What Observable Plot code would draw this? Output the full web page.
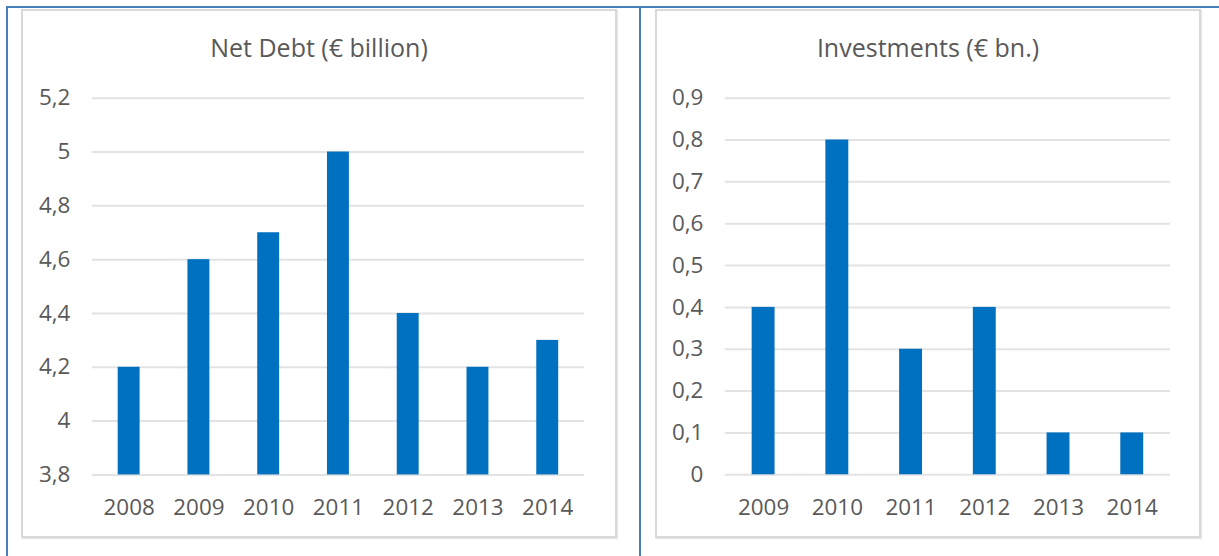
<!DOCTYPE html>
<html>
<head>
<meta charset="utf-8">
<script src="https://cdn.jsdelivr.net/npm/d3@7"></script>
<script src="https://cdn.jsdelivr.net/npm/@observablehq/plot@0.6"></script>
<style>
  html, body { margin: 0; padding: 0; background: #fff; width: 1219px; height: 556px; overflow: hidden; }
  .frame { position: absolute; background: #4a7ebb; }
  .panel { position: absolute; box-sizing: border-box; border: 2px solid #d9d9d9; background: #fff; box-shadow: 1px 1px 1px #e4e4e4; }
  .title { position: absolute; left: 0; right: 0; text-align: center; font-family: "Open Sans", sans-serif; font-size: 25px; line-height: 34px; color: #595959; white-space: nowrap; }
  .chart { position: absolute; left: -2px; top: -2px; }
</style>
</head>
<body>
<div class="frame" style="left:6px; top:6px; width:1213px; height:2px;"></div>
<div class="frame" style="left:6px; top:6px; width:2px; height:550px;"></div>
<div class="frame" style="left:639px; top:6px; width:2px; height:550px;"></div>

<div class="panel" id="p1" style="left:21px; top:9px; width:596px; height:529px;">
  <div class="title" style="top:19px;">Net Debt (€ billion)</div>
  <div class="chart" id="c1"></div>
</div>
<div class="panel" id="p2" style="left:655px; top:9px; width:546px; height:529px;">
  <div class="title" style="top:19px;">Investments (€ bn.)</div>
  <div class="chart" id="c2"></div>
</div>

<script>
// Net Debt chart data
const debtYears = ["2008", "2009", "2010", "2011", "2012", "2013", "2014"];
const debtValues = [4.2, 4.6, 4.7, 5.0, 4.4, 4.2, 4.3];
const debtDomain = [3.8, 5.2];
const debtTicks = [3.8, 4.0, 4.2, 4.4, 4.6, 4.8, 5.0, 5.2];

// Investments chart data
const invYears = ["2009", "2010", "2011", "2012", "2013", "2014"];
const invValues = [0.4, 0.8, 0.3, 0.4, 0.1, 0.1];
const invDomain = [0, 0.9];
const invTicks = [0, 0.1, 0.2, 0.3, 0.4, 0.5, 0.6, 0.7, 0.8, 0.9];

const fmt = d => String(+d.toFixed(1)).replace(".", ",");
const barColor = "#0070c0";
const gridColor = "#e3e3e3";
const textColor = "#595959";

function makeChart(years, values, domain, ticks, width, margins) {
  const data = years.map((y, i) => ({year: y, value: values[i]}));
  return Plot.plot({
    width, height: 529,
    marginLeft: margins[0], marginRight: margins[1], marginTop: 89, marginBottom: 62,
    style: {fontFamily: "'Open Sans', sans-serif", fontSize: "22.5px", color: textColor, background: "transparent", overflow: "visible"},
    x: {domain: years, paddingInner: 0.69, paddingOuter: 0.345, label: null},
    y: {domain, label: null},
    marks: [
      Plot.ruleY(ticks, {stroke: gridColor, strokeWidth: 2}),
      Plot.barY(data, {x: "year", y1: () => domain[0], y2: "value", fill: barColor}),
      Plot.axisY(ticks, {tickSize: 0, tickPadding: 22, tickFormat: fmt, fill: textColor, label: null}),
      Plot.axisX({tickSize: 0, tickPadding: 24, fill: textColor, label: null})
    ]
  });
}

document.getElementById("c1").append(makeChart(debtYears, debtValues, debtDomain, debtTicks, 596, [71, 31]));
document.getElementById("c2").append(makeChart(invYears, invValues, invDomain, invTicks, 546, [70, 29]));
</script>
</body>
</html>
